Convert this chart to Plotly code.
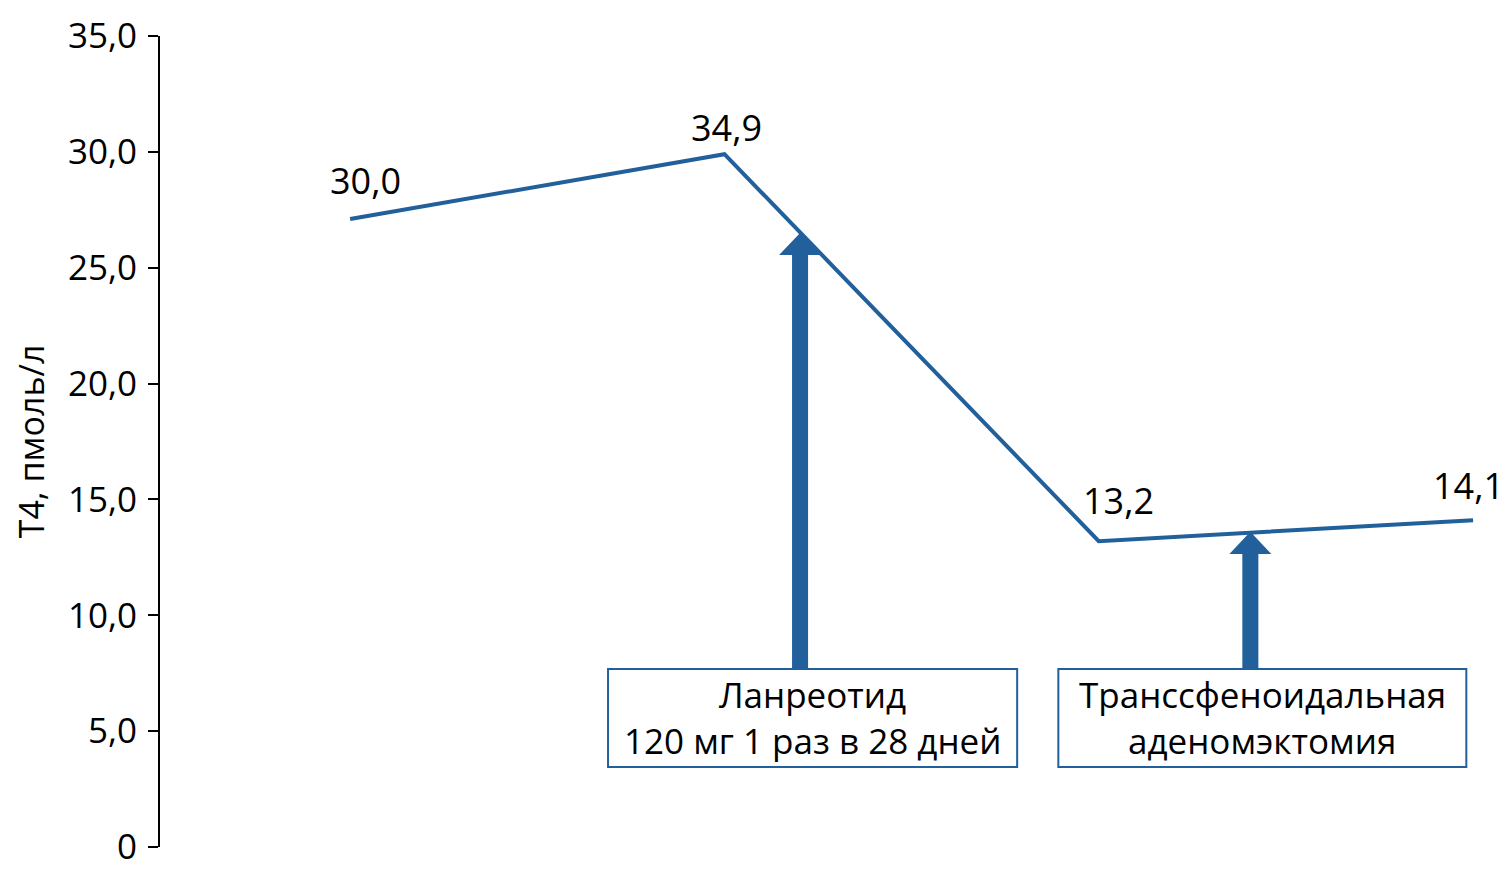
import plotly.graph_objects as go

# Data
time_points = [0, 1, 2, 3]
t4_plotted = [27.1, 29.9, 13.2, 14.1]
t4_labels = ["30,0", "34,9", "13,2", "14,1"]
y_tickvals = [0, 5, 10, 15, 20, 25, 30, 35]
y_ticktext = ["0", "5,0", "10,0", "15,0", "20,0", "25,0", "30,0", "35,0"]
box_lines = [["Ланреотид", "120 мг 1 раз в 28 дней"], ["Транссфеноидальная", "аденомэктомия"]]

BLUE = "#21609b"
FONT = "Open Sans"

fig = go.Figure()
fig.add_trace(go.Scatter(x=time_points, y=t4_plotted, mode="lines",
                         line=dict(color=BLUE, width=4), hoverinfo="skip"))

# value labels
shifts = [(15, 39), (2, 27), (20, 41), (-5, 35)]
for xv, yv, lab, (dx, dy) in zip(time_points, t4_plotted, t4_labels, shifts):
    fig.add_annotation(x=xv, y=yv, text=lab, showarrow=False, xshift=dx, yshift=dy,
                       font=dict(family=FONT, size=36, color="black"))

# arrows (shaft + head) and boxes
arrows = [dict(xc=1.202, tip=26.5, base=7.68), dict(xc=2.405, tip=13.6, base=7.68)]
hs, hh, hl = 0.0214, 0.056, 0.95
for a in arrows:
    xc, tip, base = a["xc"], a["tip"], a["base"]
    path = (f"M{xc-hs},{base} L{xc-hs},{tip-hl} L{xc-hh},{tip-hl} L{xc},{tip} "
            f"L{xc+hh},{tip-hl} L{xc+hs},{tip-hl} L{xc+hs},{base} Z")
    fig.add_shape(type="path", path=path, xref="x", yref="y",
                  fillcolor=BLUE, line=dict(width=0))

boxes = [(0.689, 1.782), (1.892, 2.982)]
for (x0, x1), lines in zip(boxes, box_lines):
    fig.add_shape(type="rect", x0=x0, x1=x1, y0=3.45, y1=7.68, xref="x", yref="y",
                  fillcolor="white", line=dict(color=BLUE, width=2))
    for ln, dy in zip(lines, [23, -23]):
        fig.add_annotation(x=(x0 + x1) / 2, y=5.57, yshift=dy, text=ln, showarrow=False,
                           borderpad=0, font=dict(family=FONT, size=35, color="black"))

fig.update_layout(
    width=1501, height=871,
    margin=dict(l=152, r=0, t=28, b=32),
    plot_bgcolor="white", paper_bgcolor="white",
    showlegend=False,
    font=dict(family=FONT, color="black"),
    xaxis=dict(range=[-0.508, 3.096], visible=False, fixedrange=True),
    yaxis=dict(range=[0, 35], tickvals=y_tickvals, ticktext=y_ticktext,
               showline=True, linecolor="black", linewidth=2,
               ticks="outside", ticklen=10, tickwidth=2, tickcolor="black",
               showgrid=False, zeroline=False,
               tickfont=dict(family=FONT, size=35, color="black"),
               ticklabelstandoff=4,
               title=dict(text="T4, пмоль/л", font=dict(family=FONT, size=34, color="black"),
                          standoff=16)),
)

fig.write_html("out.html")
